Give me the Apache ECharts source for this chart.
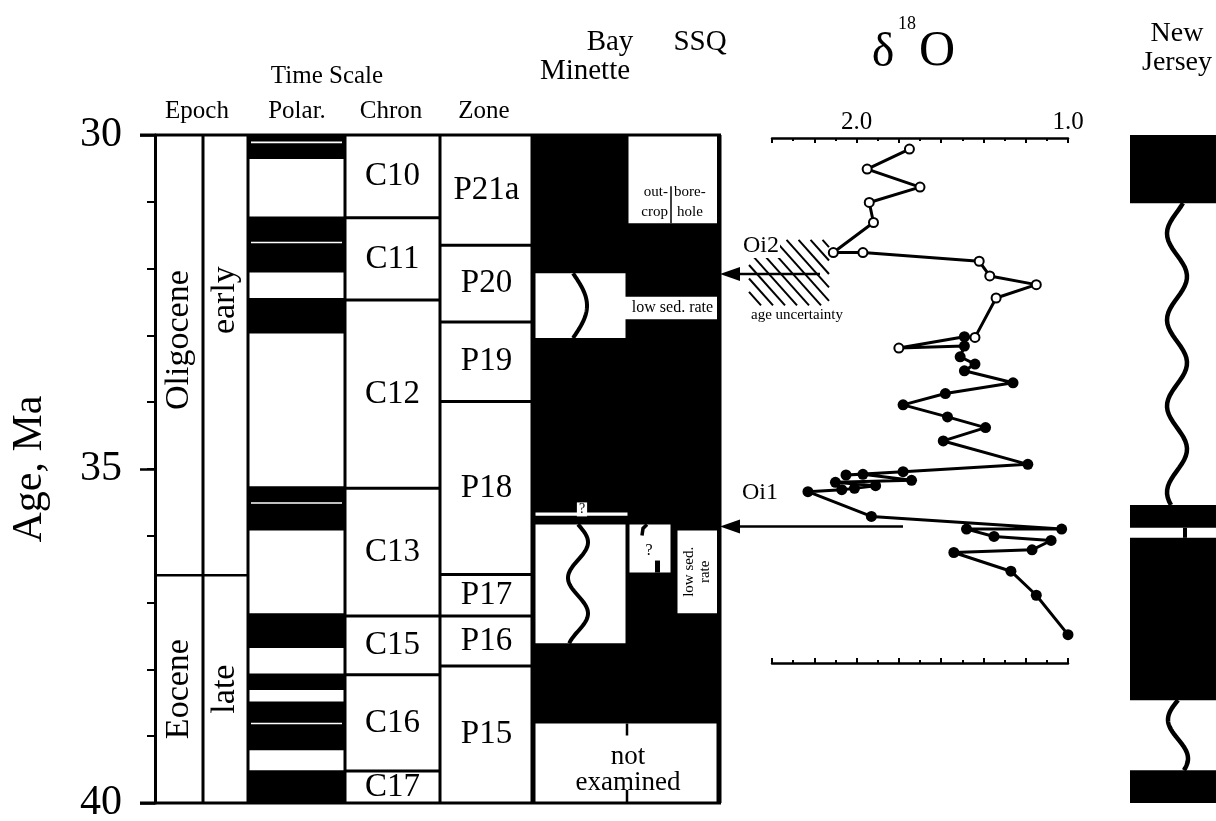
<!DOCTYPE html>
<html><head><meta charset="utf-8">
<script src="https://cdn.jsdelivr.net/npm/echarts@6/dist/echarts.min.js"></script>
<style>html,body{margin:0;padding:0;background:#fff}#c{width:1216px;height:821px}</style>
</head><body><div id="c"></div>
<script>
// ================= DATA =================
const ageTickLabels = [30, 35, 40];
const epochNames = ['Oligocene', 'Eocene'];
const subEpochNames = ['early', 'late'];
const epochBounds = [30, 36.59, 40];
const polarityNormal = [[30.0,30.36],[31.22,32.06],[32.44,32.97],[35.26,35.92],[37.16,37.68],[38.06,38.31],[38.48,39.21],[39.51,40.0]];
const polarityCrypto = [30.11, 31.61, 35.51, 38.81];
const chronNames = ['C10','C11','C12','C13','C15','C16','C17'];
const chronBounds = [30, 31.24, 32.47, 35.29, 37.20, 38.08, 39.52, 40];
const zoneNames = ['P21a','P20','P19','P18','P17','P16','P15'];
const zoneBounds = [30, 31.65, 32.80, 33.99, 36.58, 37.20, 37.95, 40];
const bmHiatus = [[32.07,33.04],[35.83,37.61]];
const bmQuery = [[35.65,35.70]];
const ssqOutcrop = [[30.0,31.32]];
const lowSedRate = [[32.42,32.76]];
const ssqQuery = [[35.83,36.55]];
const ssqLowSedRate = [[35.92,37.16]];
const notExamined = [[38.81,40.0]];
const njSections = [[30.0,31.02],[35.54,35.88],[36.03,38.46],[39.51,40.0]];
const njHiatus = [[31.02,35.54],[38.46,39.51]];
const d18oAge = [30.21,30.51,30.78,31.01,31.31,31.76,31.76,31.89,32.11,32.24,32.44,33.03,33.02,33.19,33.16,33.32,33.43,33.53,33.71,33.87,34.04,34.22,34.38,34.58,34.93,35.04,35.09,35.08,35.17,35.20,35.25,35.29,35.31,35.34,35.71,35.90,35.90,36.01,36.07,36.21,36.25,36.53,36.89,37.48];
const d18oVal = [1.75,1.95,1.70,1.94,1.92,2.11,1.97,1.42,1.37,1.15,1.34,1.44,1.49,1.80,1.49,1.51,1.44,1.49,1.26,1.58,1.78,1.57,1.39,1.59,1.19,1.78,2.05,1.97,1.74,2.10,1.91,2.01,2.07,2.23,1.93,1.03,1.48,1.35,1.08,1.17,1.54,1.27,1.15,1.00];
const d18oOpen = [1,1,1,1,1,1,1,1,1,1,1,1,0,1,0,0,0,0,0,0,0,0,0,0,0,0,0,0,0,0,0,0,0,0,0,0,0,0,0,0,0,0,0,0];
const d18oLabelValues = [2.0, 1.0];
const eventNames = ['Oi2', 'Oi1'];
const eventAges = [32.08, 35.86];
const oi2AgeUncertainty = [31.57, 32.55];

// ================= LAYOUT =================
const FONT = '"Liberation Serif","Times New Roman",serif';
const fnt = s => s + 'px ' + FONT;
const X = {axis:155, epochR:203, subR:248, polarR:345, chronR:440, zoneR:533, bmR:627, ssqR:720, njL:1130, njR:1216};
const G0 = {top:135, height:668};
const G1 = {left:772, top:138, width:296, height:525};
const pxToAge = p => 30 + (p - G0.top) * 10 / G0.height;
const LW = 2.5;
// vertical shift (px) of epoch / sub-epoch labels relative to the interval middle
const epochLabelDy = [-15, 0], subLabelDy = [-55, 0];

function Y(api, age){ return api.coord([X.axis, age])[1]; }
function T(text, x, y, size, extra){ return Object.assign({type:'text', x:x, y:y, style:Object.assign({text:text, font:fnt(size), fill:'#000', align:'center', verticalAlign:'middle'}, (extra&&extra.style)||{})}, extra&&extra.rotation!==undefined?{rotation:extra.rotation}:{}); }
function L(x1,y1,x2,y2,w){ return {type:'line', shape:{x1:x1,y1:y1,x2:x2,y2:y2}, style:{stroke:'#000', lineWidth:w||LW}}; }
function R(x,y,w,h,fill){ return {type:'rect', shape:{x:x,y:y,width:w,height:h}, style:{fill:fill||'#000'}}; }
function W(cx, y0, y1, A, f, ph, w){ const pts=[]; const n=80; for(let k=0;k<=n;k++){ const t=k/n; pts.push([cx + A*Math.sin(2*Math.PI*f*t+ph), y0+(y1-y0)*t]); } return {type:'polyline', shape:{points:pts}, style:{stroke:'#000', lineWidth:w||4, fill:null}}; }
const grp = ch => ({type:'group', children:ch});
function cseries(data, render){ return {type:'custom', coordinateSystem:'cartesian2d', xAxisIndex:0, yAxisIndex:0, silent:true, animation:false, clip:false, data:data, renderItem:render}; }
const idx = arr => arr.map((a,i)=>[X.axis, Array.isArray(a)?a[0]:a, i]);

const series = [];
// Black background BM/SSQ
series.push(cseries([[X.axis, 30]], (p, api) => {
  const y0 = Y(api, epochBounds[0]), y1 = Y(api, epochBounds[epochBounds.length-1]);
  return grp([R(X.zoneR-1, y0, X.ssqR-X.zoneR+1, y1-y0)]);
}));
// Epochs
series.push(cseries(idx(epochNames), (p, api) => {
  const i = p.dataIndex, y0 = Y(api, epochBounds[i]), y1 = Y(api, epochBounds[i+1]), ym=(y0+y1)/2;
  const ch = [];
  if (i < epochNames.length-1) ch.push(L(X.axis, y1, X.subR, y1));
  ch.push(T(epochNames[i], (X.axis+X.epochR)/2, ym+epochLabelDy[i], 34, {rotation:Math.PI/2}));
  ch.push(T(subEpochNames[i], (X.epochR+X.subR)/2, ym+subLabelDy[i], 34, {rotation:Math.PI/2}));
  return grp(ch);
}));
// Polarity
series.push(cseries(idx(polarityNormal), (p, api) => {
  const a = polarityNormal[p.dataIndex], y0 = Y(api, a[0]), y1 = Y(api, a[1]);
  return grp([R(X.subR, y0, X.polarR-X.subR+1, y1-y0)]);
}));
series.push(cseries(idx(polarityCrypto), (p, api) => {
  const y = Y(api, polarityCrypto[p.dataIndex]);
  return grp([{type:'line', shape:{x1:X.subR+3, y1:y, x2:X.polarR-3, y2:y}, style:{stroke:'#fff', lineWidth:1.6}}]);
}));
// Chrons
series.push(cseries(idx(chronNames), (p, api) => {
  const i = p.dataIndex, y0 = Y(api, chronBounds[i]), y1 = Y(api, chronBounds[i+1]);
  const ch = [T(chronNames[i], (X.polarR+X.chronR)/2, (y0+y1)/2, 33)];
  if (i < chronNames.length-1) ch.push(L(X.polarR, y1, X.chronR, y1, 3));
  return grp(ch);
}));
// Zones
series.push(cseries(idx(zoneNames), (p, api) => {
  const i = p.dataIndex, y0 = Y(api, zoneBounds[i]), y1 = Y(api, zoneBounds[i+1]);
  const ch = [T(zoneNames[i], (X.chronR+X.zoneR)/2, (y0+y1)/2, 33)];
  if (i < zoneNames.length-1) ch.push(L(X.chronR, y1, X.zoneR, y1, 3));
  return grp(ch);
}));
// BM hiatus boxes with wavy lines
const bmWaves = [{cx:573, A:14, f:0.5, ph:0}, {cx:578, A:10, f:1.67, ph:0}];
series.push(cseries(idx(bmHiatus), (p, api) => {
  const i = p.dataIndex, y0 = Y(api, bmHiatus[i][0]), y1 = Y(api, bmHiatus[i][1]), w = bmWaves[i];
  return grp([R(X.zoneR+2.5, y0, X.bmR-X.zoneR-4, y1-y0, '#fff'), W(w.cx, y0, y1, w.A, w.f, w.ph, 4)]);
}));
series.push(cseries(idx(bmQuery), (p, api) => {
  const y0 = Y(api, bmQuery[0][0]), y1 = Y(api, bmQuery[0][1]);
  return grp([R(X.zoneR+2.5, y0, X.bmR-X.zoneR-2, y1-y0, '#fff'), T('?', 582, y0-3, 14, {style:{backgroundColor:'#fff', padding:[0,2,0,2]}})]);
}));
series.push(cseries(idx(ssqOutcrop), (p, api) => {
  const y0 = Y(api, ssqOutcrop[0][0]), y1 = Y(api, ssqOutcrop[0][1]);
  const xm = 671;
  return grp([R(X.bmR+1.5, y0, X.ssqR-X.bmR-4.5, y1-y0, '#fff'), L(xm, y1-37, xm, y1, 1.5),
    T('out-', xm-3, y1-31, 15, {style:{align:'right'}}), T('crop', xm-3, y1-11, 15, {style:{align:'right'}}),
    T('bore-', xm+3, y1-31, 15, {style:{align:'left'}}), T('hole', xm+6, y1-11, 15, {style:{align:'left'}})]);
}));
series.push(cseries(idx(lowSedRate), (p, api) => {
  const y0 = Y(api, lowSedRate[0][0]), y1 = Y(api, lowSedRate[0][1]);
  return grp([R(X.bmR-4, y0, X.ssqR-X.bmR+1, y1-y0, '#fff'), T('low sed. rate', (X.bmR+X.ssqR)/2-1, (y0+y1)/2, 16)]);
}));
series.push(cseries(idx(ssqQuery), (p, api) => {
  const y0 = Y(api, ssqQuery[0][0]), y1 = Y(api, ssqQuery[0][1]);
  return grp([R(X.bmR+2.5, y0, 41, y1-y0, '#fff'), T('?', 649, y0+26, 16),
    {type:'polyline', shape:{points:[[647,y0],[643,y0+4],[642,y0+11]]}, style:{stroke:'#000', lineWidth:3.5, fill:null}},
    R(655, y1-12, 5, 12)]);
}));
series.push(cseries(idx(ssqLowSedRate), (p, api) => {
  const y0 = Y(api, ssqLowSedRate[0][0]), y1 = Y(api, ssqLowSedRate[0][1]);
  return grp([R(677.5, y0, 39.5, y1-y0, '#fff'), T('low sed.\nrate', 697, (y0+y1)/2, 15, {rotation:Math.PI/2, style:{lineHeight:16}})]);
}));
series.push(cseries(idx(notExamined), (p, api) => {
  const y0 = Y(api, notExamined[0][0]), y1 = Y(api, notExamined[0][1]);
  return grp([R(X.zoneR+2.5, y0, X.ssqR-X.zoneR-6, y1-y0, '#fff'), L(X.bmR, y0, X.bmR, y0+12, 2.5), L(X.bmR, y1-13, X.bmR, y1, 2.5),
    T('not', X.bmR+1, y0+33, 27), T('examined', X.bmR+1, y0+59, 27)]);
}));
// Frame
series.push(cseries([[X.axis, 30]], (p, api) => {
  const y0 = Y(api, 30), y1 = Y(api, 40);
  const ch = [L(X.axis-15, y0, X.ssqR+1, y0, 3), L(X.axis-15, y1, X.ssqR+1, y1, 3)];
  [X.epochR, X.subR, X.polarR, X.chronR, X.zoneR-1].forEach(x => ch.push(L(x, y0, x, y1, 3)));
  ch.push(L(X.ssqR, y0, X.ssqR, y1, 3));
  return grp(ch);
}));
// New Jersey
const njWaves = [{cx:1177, A:10, f:3.5, ph:2.5}, {cx:1178, A:10, f:0.9, ph:Math.PI}];
series.push(cseries(idx(njSections), (p, api) => {
  const i = p.dataIndex, y0 = Y(api, njSections[i][0]), y1 = Y(api, njSections[i][1]);
  const ch = [R(X.njL, y0, X.njR-X.njL, y1-y0)];
  if (i < njSections.length-1 && njSections[i+1][0]-njSections[i][1] < 0.3) ch.push(L(1185, y1, 1185, Y(api, njSections[i+1][0]), 4));
  return grp(ch);
}));
series.push(cseries(idx(njHiatus), (p, api) => {
  const i = p.dataIndex, y0 = Y(api, njHiatus[i][0]), y1 = Y(api, njHiatus[i][1]), w = njWaves[i];
  return grp([W(w.cx, y0, y1, w.A, w.f, w.ph, 4.5)]);
}));
// Hatch for Oi2 age uncertainty
series.push(cseries(idx([oi2AgeUncertainty]), (p, api) => {
  const yt = Y(api, oi2AgeUncertainty[0]), yb = Y(api, oi2AgeUncertainty[1]);
  const xl = 749, xr = 829, s = 1.12, ch = [];
  for (let xt = xl - (yb-yt)/s; xt <= xr; xt += 12) {
    const ya = Math.max(yt, yt + (xl-xt)*s), yz = Math.min(yb, yt + (xr-xt)*s);
    if (yz > ya + 2) ch.push(L(xt + (ya-yt)/s, ya, xt + (yz-yt)/s, yz, 2));
  }
  ch.push(T('age uncertainty', 797, yb+10, 15));
  return grp(ch);
}));
// Event arrows
const evStartX = [820, 903], evLabelX = [761, 760], evLabelDy = [-28, -34];
series.push(cseries(idx(eventNames), (p, api) => {
  const i = p.dataIndex, y = Y(api, eventAges[i]);
  return grp([L(X.ssqR+18, y, evStartX[i], y, 2.5),
    {type:'polygon', shape:{points:[[X.ssqR, y],[X.ssqR+20, y-7],[X.ssqR+20, y+7]]}, style:{fill:'#000'}},
    T(eventNames[i], evLabelX[i], y+evLabelDy[i], 24, {style:{backgroundColor: i===0?'#fff':'transparent', padding:[0,1,0,1]}})]);
}));
// d18O curve
series.push({
  type:'line', xAxisIndex:1, yAxisIndex:2, animation:false, silent:true, clip:false, showAllSymbol:true,
  symbol:'circle', symbolSize:9, lineStyle:{color:'#000', width:3},
  itemStyle:{color:'#000', borderColor:'#000', borderWidth:2},
  data: d18oVal.map((v,i)=>({value:[v, d18oAge[i]], symbolSize: d18oOpen[i]?9:11,
    itemStyle: d18oOpen[i] ? {color:'#fff', borderColor:'#000', borderWidth:2} : {color:'#000', borderColor:'#000', borderWidth:0}}))
});

const d18Axis = (pos, labels) => ({
  gridIndex:1, type:'value', position:pos, inverse:true, min:1.0, max:2.4, interval:0.2,
  axisLine:{show:true, lineStyle:{color:'#000', width:2.5}},
  axisTick:{show:true, inside:true, length:5, lineStyle:{color:'#000', width:2}},
  minorTick:{show:true, splitNumber:2, length:3, lineStyle:{color:'#000', width:2}},
  axisLabel:{show:labels, margin:3, fontSize:25, fontFamily:FONT, color:'#000', showMinLabel:true, showMaxLabel:true,
    formatter: v => d18oLabelValues.some(t=>Math.abs(t-v)<1e-6) ? v.toFixed(1) : ''},
  splitLine:{show:false}
});

const headers = [
  ['Time Scale', 327, 76, 25], ['Epoch', 197, 111, 25], ['Polar.', 297, 111, 25], ['Chron', 391, 111, 25], ['Zone', 484, 111, 25],
  ['Bay', 610, 42, 29], ['Minette', 585, 71, 29], ['SSQ', 700, 42, 29], ['New', 1177, 34, 28], ['Jersey', 1177, 63, 28]
];
const graphic = headers.map(h => ({type:'text', x:h[1], y:h[2], style:{text:h[0], font:fnt(h[3]), fill:'#000', align:'center', verticalAlign:'middle'}}));
graphic.push({type:'text', x:883, y:53, style:{text:'δ', font:fnt(48), fill:'#000', align:'center', verticalAlign:'middle'}});
graphic.push({type:'text', x:907, y:24, style:{text:'18', font:fnt(18), fill:'#000', align:'center', verticalAlign:'middle'}});
graphic.push({type:'text', x:937, y:52, style:{text:'O', font:fnt(50), fill:'#000', align:'center', verticalAlign:'middle'}});

const option = {
  backgroundColor:'#fff', animation:false,
  grid:[{left:X.axis, top:G0.top, width:X.njR-X.axis, height:G0.height, outerBoundsMode:'none'},
        {left:G1.left, top:G1.top, width:G1.width, height:G1.height, outerBoundsMode:'none'}],
  xAxis:[{gridIndex:0, type:'value', min:X.axis, max:X.njR, show:false},
         d18Axis('top', true), d18Axis('bottom', false)],
  yAxis:[
    {gridIndex:0, type:'value', position:'left', offset:0, min:30, max:40, inverse:true, interval:5,
     axisLine:{show:true, lineStyle:{color:'#000', width:3}},
     axisTick:{show:true, length:15, lineStyle:{color:'#000', width:2.5}},
     axisLabel:{show:true, fontSize:42, fontFamily:FONT, color:'#000', margin:33, formatter: v => ageTickLabels.includes(v) ? String(v) : ''},
     splitLine:{show:false}, name:'Age, Ma', nameLocation:'middle', nameRotate:90, nameGap:104,
     nameTextStyle:{fontSize:42, fontFamily:FONT, color:'#000'}},
    {gridIndex:0, type:'value', position:'left', offset:0, min:30, max:40, inverse:true, interval:1,
     axisLine:{show:false}, axisTick:{show:true, length:8, lineStyle:{color:'#000', width:2}}, axisLabel:{show:false}, splitLine:{show:false}},
    {gridIndex:1, type:'value', min:pxToAge(G1.top), max:pxToAge(G1.top+G1.height), inverse:true, show:false, splitLine:{show:false}}
  ],
  graphic: graphic,
  series: series
};
const chart = echarts.init(document.getElementById('c'), null, {renderer:'canvas'});
chart.setOption(option);
</script></body></html>
